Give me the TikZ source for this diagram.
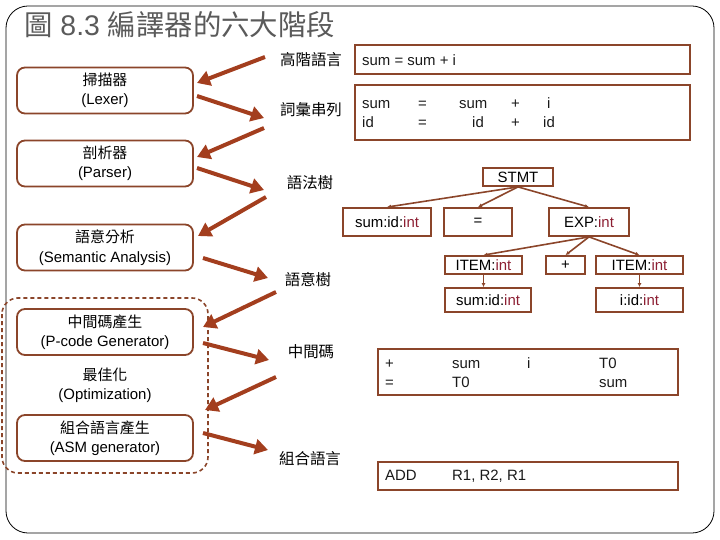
\documentclass[tikz,border=0pt]{standalone}
\usepackage{fontspec}
\setmainfont{Liberation Sans}
\newfontfamily\cjk{Noto Sans CJK TC}
\usetikzlibrary{arrows.meta}
\definecolor{boxc}{RGB}{139,69,42}
\definecolor{arrc}{RGB}{163,62,30}
\definecolor{intc}{RGB}{140,30,50}
\definecolor{titc}{RGB}{90,90,90}
\newcommand{\tyint}{\textcolor{intc}{int}}
\tikzset{
  stage/.style={draw=boxc, line width=1.8bp, rounded corners=8bp, minimum width=176bp, minimum height=46bp, align=center, inner sep=0pt, font=\fontsize{15}{19.5}\selectfont},
  plain/.style={align=center, inner sep=0pt, font=\fontsize{15}{19.5}\selectfont},
  lbl/.style={inner sep=0pt, font=\cjk\fontsize{15.5}{18}\selectfont},
  codebox/.style={draw=boxc, line width=1.8bp, anchor=north west, inner sep=0pt},
  tok/.style={anchor=base west, inner sep=0pt, font=\fontsize{15}{18}\selectfont, text=black!90},
  tnode/.style={draw=boxc, line width=1.8bp, inner sep=0pt, font=\fontsize{15}{18}\selectfont},
  bigarrow/.style={draw=arrc, line width=4bp, -{Triangle[length=13bp,width=15bp]}},
  tedge/.style={draw=boxc, line width=1.6bp, -{Latex[length=4bp,width=4bp]}}
}
\begin{document}
\begin{tikzpicture}[x=1bp,y=-1bp]
\useasboundingbox (0,0) rectangle (720,540);
% outer frame
\draw[black, line width=0.8bp, rounded corners=22bp] (6,6) rectangle (714,533);
% title
\node[anchor=west, inner sep=0pt, text=titc, font=\fontsize{28.5}{30}\selectfont] (title) at (24,25) {{\cjk 圖} 8.3 {\cjk 編譯器的六大階段}};
% dashed group
\draw[boxc, line width=1.6bp, dashed, dash pattern=on 4bp off 3bp, rounded corners=16bp] (2,298) rectangle (208,473);
% left stages
\node[stage] (lex) at (105,90.5) {{\cjk 掃描器}\\(Lexer)};
\node[stage] (par) at (105,163.5) {{\cjk 剖析器}\\(Parser)};
\node[stage] (sema) at (105,247.5) {{\cjk 語意分析}\\(Semantic Analysis)};
\node[stage] (pgen) at (105,332) {{\cjk 中間碼產生}\\(P-code Generator)};
\node[plain] (opt) at (105,385.5) {{\cjk 最佳化}\\(Optimization)};
\node[stage] (agen) at (105,438) {{\cjk 組合語言產生}\\(ASM generator)};
% middle labels
\node[lbl] (hl) at (311,60) {高階語言};
\node[lbl] (toks) at (311,110) {詞彙串列};
\node[lbl] (syn) at (310,183) {語法樹};
\node[lbl] (semt) at (308,280) {語意樹};
\node[lbl] (mid) at (311,352) {中間碼};
\node[lbl] (asml) at (310,459) {組合語言};
% arrow coordinates
\coordinate (a1s) at (265,57);  \coordinate (a1e) at (197,83);
\coordinate (a2s) at (197,96);  \coordinate (a2e) at (264,118);
\coordinate (a3s) at (264,128); \coordinate (a3e) at (197,157);
\coordinate (a4s) at (197,168); \coordinate (a4e) at (264,190);
\coordinate (a5s) at (266,197); \coordinate (a5e) at (198,236);
\coordinate (a6s) at (203,258); \coordinate (a6e) at (268,278);
\coordinate (a7s) at (276,292); \coordinate (a7e) at (203,327);
\coordinate (a8s) at (203,343); \coordinate (a8e) at (269,360);
\coordinate (a9s) at (276,377); \coordinate (a9e) at (205,410);
\coordinate (a10s) at (203,433); \coordinate (a10e) at (268,450);
\foreach \i in {1,...,10} {\draw[bigarrow] (a\i s) -- (a\i e);}
% code box 1
\node[codebox, minimum width=335bp, minimum height=29bp] (src) at (354,44) {};
\node[tok] (s1) at (362,65.5) {sum = sum + i};
% code box 2
\node[codebox, minimum width=335bp, minimum height=55bp] (lexbox) at (354,84) {};
\node[tok] (l1) at (362,108.5) {sum};
\node[tok] (l2) at (418,108.5) {=};
\node[tok] (l3) at (459,108.5) {sum};
\node[tok] (l4) at (511,108.5) {+};
\node[tok] (l5) at (547,108.5) {i};
\node[tok] (l6) at (362,127.5) {id};
\node[tok] (l7) at (418,127.5) {=};
\node[tok] (l8) at (472,127.5) {id};
\node[tok] (l9) at (511,127.5) {+};
\node[tok] (l10) at (543,127.5) {id};
% tree
\node[tnode, minimum width=70bp, minimum height=18bp] (stmt) at (518,177) {STMT};
\node[tnode, minimum width=88bp, minimum height=28bp] (sumid) at (387,222) {sum:id:\tyint};
\node[tnode, minimum width=68bp, minimum height=28bp] (eq) at (478,222) {=};
\node[tnode, minimum width=80bp, minimum height=28bp] (exp) at (589,222) {EXP:\tyint};
\node[tnode, minimum width=77bp, minimum height=18bp] (item1) at (483.5,265) {ITEM:\tyint};
\node[tnode, minimum width=39bp, minimum height=18bp] (plus) at (565.5,265) {+};
\node[tnode, minimum width=87bp, minimum height=18bp] (item2) at (639.5,265) {ITEM:\tyint};
\node[tnode, minimum width=86bp, minimum height=24bp] (sumid2) at (488,300) {sum:id:\tyint};
\node[tnode, minimum width=87bp, minimum height=24bp] (iid) at (639.5,300) {i:id:\tyint};
\draw[tedge] (stmt.south) -- (sumid.north);
\draw[tedge] (stmt.south) -- (eq.north);
\draw[tedge] (stmt.south) -- (exp.north);
\draw[tedge] (exp.south) -- (item1.north);
\draw[tedge] (exp.south) -- (plus.north);
\draw[tedge] (exp.south) -- (item2.north);
\draw[tedge] (item1.south) -- (item1.south |- sumid2.north);
\draw[tedge] (item2.south) -- (iid.north);
% code box 3
\node[codebox, minimum width=300bp, minimum height=46bp] (pcode) at (377,348) {};
\node[tok] (p1) at (385,368.5) {+};
\node[tok] (p2) at (452,368.5) {sum};
\node[tok] (p3) at (527,368.5) {i};
\node[tok] (p4) at (599,368.5) {T0};
\node[tok] (p5) at (385,387.5) {=};
\node[tok] (p6) at (452,387.5) {T0};
\node[tok] (p7) at (599,387.5) {sum};
% code box 4
\node[codebox, minimum width=300bp, minimum height=28bp] (asmbox) at (377,461) {};
\node[tok] (c1) at (385,480.5) {ADD};
\node[tok] (c2) at (452,480.5) {R1, R2, R1};
\end{tikzpicture}
\end{document}
